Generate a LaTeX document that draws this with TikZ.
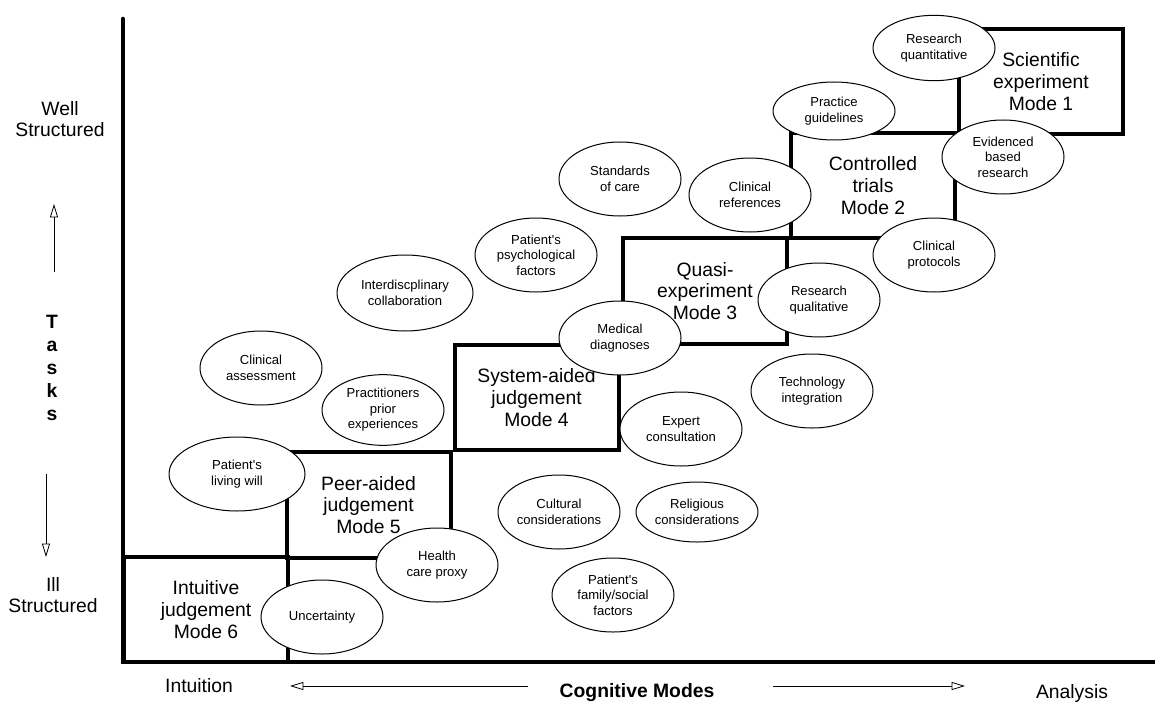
\documentclass[tikz,border=0pt]{standalone}
\usepackage{fontspec}
\newfontfamily\arialfont{Liberation Sans}
\usetikzlibrary{shapes.geometric,arrows.meta}

\begin{document}
\begin{tikzpicture}[x=0.75pt,y=-0.75pt,
        font=\arialfont,
        axis/.style    = {line width=3.4pt,line cap=round},
        modebox/.style = {draw,line width=3pt,minimum width=123pt,minimum height=79pt,
                          inner sep=0pt,align=center,font=\arialfont\fontsize{14.5}{16.3}\selectfont},
        idea/.style    = {draw,fill=white,ellipse,line width=0.75pt,minimum width=91.5pt,
                          minimum height=55.5pt,inner sep=0pt,align=center,
                          font=\arialfont\fontsize{9.8}{11.7}\selectfont},
        sidetext/.style = {align=center,font=\arialfont\fontsize{14.5}{16.3}\selectfont},
        guide/.style   = {line width=0.6pt,-{Triangle[open,length=10pt,width=6pt]}}]
    \useasboundingbox (0,0) rectangle (1155,706);

    % axes
    \coordinate (top)    at (123,19);
    \coordinate (origin) at (123,662);
    \coordinate (right)  at (1160,662);
    \draw[axis] (top) -- (origin) -- (right);

    % modes
    \node[modebox] (mode1) at (1041,81.5)  {Scientific\\experiment\\Mode 1};
    \node[modebox] (mode2) at (873,185.5)  {Controlled\\trials\\Mode 2};
    \node[modebox] (mode3) at (705,291)    {Quasi-\\experiment\\Mode 3};
    \node[modebox] (mode4) at (536.5,397.5){System-aided\\judgement\\Mode 4};
    \node[modebox] (mode5) at (368.5,505)  {Peer-aided\\judgement\\Mode 5};
    \node[modebox] (mode6) at (206,609.5)  {Intuitive\\judgement\\Mode 6};

    % factors
    \node[idea,minimum height=49pt]   (quant)    at (934,48)   {Research\\quantitative};
    \node[idea,minimum height=43.5pt] (guide)    at (834,111)  {Practice\\guidelines};
    \node[idea]                       (evidence) at (1003,157) {Evidenced\\based\\research};
    \node[idea]                       (protocol) at (934,255)  {Clinical\\protocols};
    \node[idea]                       (qual)     at (819,300)  {Research\\qualitative};
    \node[idea]                       (refs)     at (750,195)  {Clinical\\references};
    \node[idea]                       (care)     at (620,179)  {Standards\\of care};
    \node[idea]                       (psych)    at (536,255)  {Patient's\\psychological\\factors};
    \node[idea,minimum width=102pt,minimum height=57pt] (collab) at (405,293) {Interdiscplinary\\collaboration};
    \node[idea]                       (diag)     at (620,338)  {Medical\\diagnoses};
    \node[idea]                       (assess)   at (261,368)  {Clinical\\assessment};
    \node[idea,minimum height=53pt]   (prior)    at (383,410)  {Practitioners\\prior\\experiences};
    \node[idea,minimum width=102pt]   (will)     at (237,474)  {Patient's\\living will};
    \node[idea]                       (uncert)   at (322,617)  {Uncertainty};
    \node[idea]                       (proxy)    at (437,565)  {Health\\care proxy};
    \node[idea]                       (expert)   at (681,429)  {Expert\\consultation};
    \node[idea]                       (tech)     at (812,391)  {Technology\\integration};
    \node[idea]                       (culture)  at (559,512)  {Cultural\\considerations};
    \node[idea,minimum height=45pt]   (relig)    at (697,512)  {Religious\\considerations};
    \node[idea]                       (family)   at (613,595)  {Patient's\\family/social\\factors};

    % side labels
    \node[sidetext] (well) at (60,119) {Well\\Structured};
    \node[sidetext] (ill)  at (53,595) {Ill\\Structured};
    \node[align=center,font=\arialfont\bfseries\fontsize{14.5}{17.3}\selectfont] (tasks) at (52,368) {T\\a\\s\\k\\s};
    \coordinate (upfrom) at (54,272);   \coordinate (upto) at (54,204);
    \coordinate (dnfrom) at (46,474);   \coordinate (dnto) at (46,557);
    \draw[guide] (upfrom) -- (upto);
    \draw[guide] (dnfrom) -- (dnto);

    % bottom labels
    \node[sidetext] (intuition) at (199,686)  {Intuition};
    \node[sidetext,font=\arialfont\bfseries\fontsize{14.5}{16.3}\selectfont] (cogmodes) at (637,693) {Cognitive Modes};
    \node[sidetext] (analysis)  at (1072,693) {Analysis};
    \coordinate (lfrom) at (528,686);   \coordinate (lto) at (290,686);
    \coordinate (rfrom) at (773,686);   \coordinate (rto) at (965,686);
    \draw[guide] (lfrom) -- (lto);
    \draw[guide] (rfrom) -- (rto);
\end{tikzpicture}
\end{document}
